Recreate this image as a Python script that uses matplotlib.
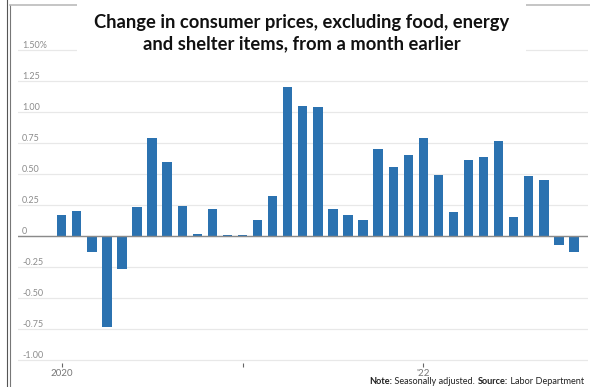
import matplotlib
matplotlib.use('Agg')
import matplotlib.pyplot as plt
import numpy as np

plt.rcParams['font.family'] = ['Lato', 'DejaVu Sans']

# Monthly change, Jan 2020 - Nov 2022 (percent)
values = [0.17, 0.20, -0.13, -0.73, -0.27, 0.23, 0.79, 0.60, 0.24, 0.02, 0.22, 0.005,
          0.005, 0.13, 0.32, 1.20, 1.05, 1.04, 0.22, 0.17, 0.13, 0.70, 0.56, 0.65,
          0.79, 0.49, 0.19, 0.61, 0.64, 0.77, 0.15, 0.48, 0.45, -0.07, -0.13]
x_ticks = [0, 12, 24]
x_tick_labels = ['2020', '', "'22"]
y_ticks = [-1.0, -0.75, -0.5, -0.25, 0, 0.25, 0.5, 0.75, 1.0, 1.25, 1.5]
y_tick_labels = ['-1.00', '-0.75', '-0.50', '-0.25', '0', '0.25', '0.50', '0.75',
                 '1.00', '1.25', '1.50%']

title = 'Change in consumer prices, excluding food, energy\nand shelter items, from a month earlier'

W, H = 590, 387
fig = plt.figure(figsize=(W / 100, H / 100), dpi=100)

# axes placement in pixels
left_px, right_px = 18, 588
top_px, bottom_px = 43.8, 362.5
ax = fig.add_axes([left_px / W, 1 - bottom_px / H,
                   (right_px - left_px) / W, (bottom_px - top_px) / H])

bar_color = '#2b72b0'
x = np.arange(len(values))
ax.bar(x, values, width=0.62, color=bar_color, zorder=3)
ax.axhline(0, color='#8a8a8a', lw=1.0, zorder=4)

ax.set_xlim(-2.9, 34.93)
ax.set_ylim(-1.02, 1.55)

for s in ax.spines.values():
    s.set_visible(False)

ax.set_yticks(y_ticks)
ax.set_yticklabels(y_tick_labels, ha='left', va='bottom', fontsize=6.5, color='#8c8c8c')
ax.tick_params(axis='y', length=0, pad=-3)
ax.grid(axis='y', color='#e8e8e8', lw=0.9, zorder=0)

ax.set_xticks(x_ticks)
ax.set_xticklabels(x_tick_labels, fontsize=7, color='#777777')
ax.tick_params(axis='x', length=3, width=0.8, color='#666666', pad=2)

# title on a white box so it hides the top gridline
fig.text(0.511, 1 - 33.5 / H, title, ha='center', va='center', fontsize=13.2,
         fontweight='bold', color='#111111', linespacing=1.3,
         bbox=dict(boxstyle='square,pad=0.9', fc='white', ec='none'), zorder=5)

# footnote in the bottom right corner, right edge at 584 px
fig.canvas.draw()
renderer = fig.canvas.get_renderer()
pieces = [('Note:', 'bold'), (' Seasonally adjusted. ', 'normal'),
          ('Source:', 'bold'), (' Labor Department', 'normal')]
texts = []
for txt, weight in pieces:
    t = fig.text(0, 1 - 384 / H, txt, ha='left', va='baseline', fontsize=6.6,
                 fontweight=weight, color='#222222')
    texts.append(t)
widths = [t.get_window_extent(renderer).width for t in texts]
xpos = 584 - sum(widths)
for t, w in zip(texts, widths):
    t.set_x(xpos / W)
    xpos += w

# frame lines at left and top
fig.add_artist(plt.Line2D([7 / W, 7 / W], [0, 1], color='#555555', lw=0.8))
fig.add_artist(plt.Line2D([10 / W, 10 / W], [0, 1 - 5 / H], color='#777777', lw=0.8))
fig.add_artist(plt.Line2D([10 / W, 1], [1 - 5 / H, 1 - 5 / H], color='#bbbbbb', lw=1.2))

fig.savefig('out.png', dpi=100)
